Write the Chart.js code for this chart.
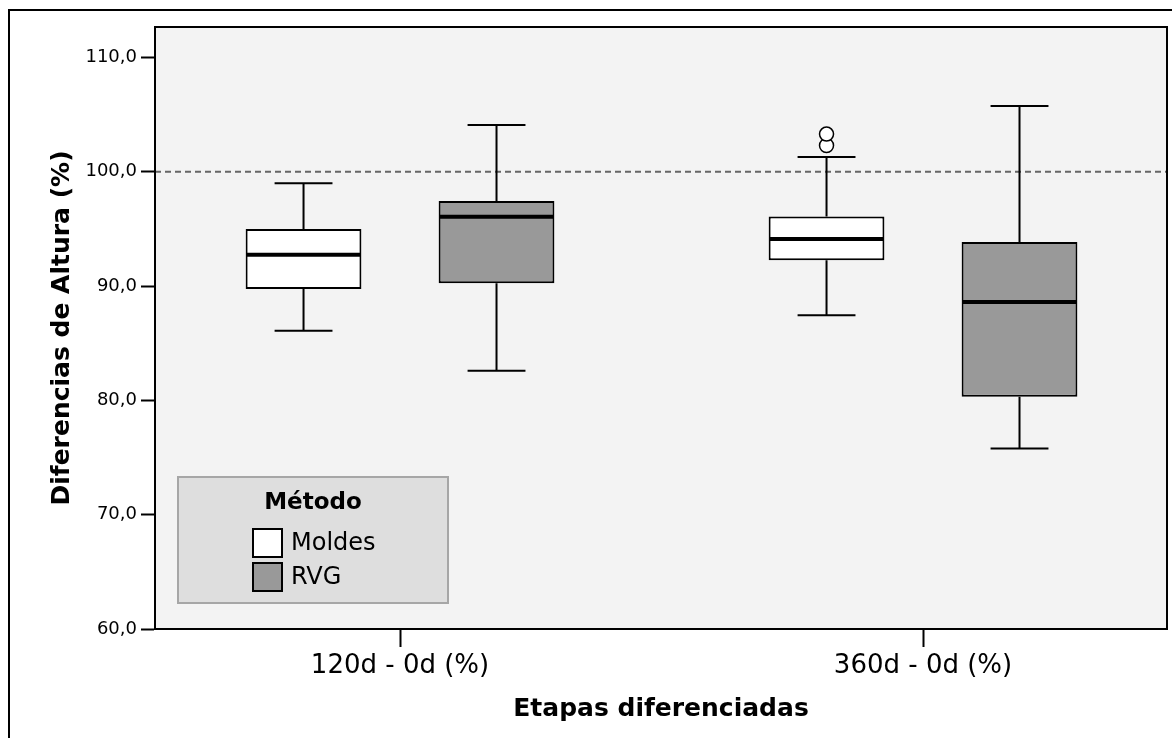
<!DOCTYPE html>
<html>
<head>
<meta charset="utf-8">
<script src="https://cdn.jsdelivr.net/npm/chart.js@4"></script>
<style>
  body { margin:0; background:#fff; }
</style>
</head>
<body>
<canvas id="grafico" width="1172" height="738"></canvas>
<script>
// datos (diagrama de cajas)
var categorias = ['120d - 0d (%)', '360d - 0d (%)'];
var posiciones = [0, 1];

var moldesMin     = [86.1, 87.45];
var moldesQ1      = [89.75, 92.26];
var moldesMediana = [92.75, 94.12];
var moldesQ3      = [95.0, 96.1];
var moldesMax     = [99.0, 101.3];
var moldesAtipicos = [[], [102.3, 103.3]];

var rvgMin     = [82.6, 75.8];
var rvgQ1      = [90.24, 80.32];
var rvgMediana = [96.07, 88.6];
var rvgQ3      = [97.45, 93.86];
var rvgMax     = [104.1, 105.76];
var rvgAtipicos = [[], []];

var ticksY = [60, 70, 80, 90, 100, 110];
var referencia = 100;

var tituloLeyenda = 'Método';

Chart.defaults.font.family = "'DejaVu Sans', sans-serif";
Chart.defaults.color = '#000';

function armarSerie(nombre, color, q1, q3, min, med, max, atip){
	return {
		label: nombre,
		backgroundColor: color,
		borderColor: '#000',
		borderWidth: 2,
		borderSkipped: false,
		categoryPercentage: 0.738,
		barPercentage: 0.6,
		data: posiciones.map(function(p, i){ return {x: p, y: [q1[i], q3[i]]}; }),
		minimos: min,
		medianas: med,
		maximos: max,
		atipicos: atip
	};
}

var pluginCajas = {
	id: 'cajas',
	beforeDraw: function(chart){
		var ctx = chart.ctx, a = chart.chartArea;
		ctx.save();
		ctx.fillStyle = '#fff';
		ctx.fillRect(0, 0, chart.width, chart.height);
		// marco exterior
		ctx.strokeStyle = '#000';
		ctx.lineWidth = 2;
		ctx.strokeRect(9, 10, chart.width + 20, chart.height + 20);
		// fondo del area
		ctx.fillStyle = '#f3f3f3';
		ctx.fillRect(a.left, a.top, a.right - a.left, a.bottom - a.top);
		ctx.restore();
	},
	beforeDatasetsDraw: function(chart){
		var ctx = chart.ctx, a = chart.chartArea;
		var yy = chart.scales.y.getPixelForValue(referencia);
		ctx.save();
		ctx.strokeStyle = '#666';
		ctx.lineWidth = 2;
		ctx.setLineDash([6, 4]);
		ctx.beginPath();
		ctx.moveTo(a.left, yy);
		ctx.lineTo(a.right, yy);
		ctx.stroke();
		ctx.restore();
	},
	afterDatasetsDraw: function(chart){
		var ctx = chart.ctx, a = chart.chartArea;
		var ys = chart.scales.y;
		ctx.save();
		ctx.strokeStyle = '#000';
		chart.data.datasets.forEach(function(ds, k){
			var meta = chart.getDatasetMeta(k);
			meta.data.forEach(function(el, i){
				var x = el.x, w = el.width;
				var yq1 = ys.getPixelForValue(ds.data[i].y[0]);
				var yq3 = ys.getPixelForValue(ds.data[i].y[1]);
				var ymin = ys.getPixelForValue(ds.minimos[i]);
				var ymax = ys.getPixelForValue(ds.maximos[i]);
				var ymed = ys.getPixelForValue(ds.medianas[i]);
				ctx.lineWidth = 2;
				ctx.beginPath();
				ctx.moveTo(x, yq3); ctx.lineTo(x, ymax);
				ctx.moveTo(x - w/4, ymax); ctx.lineTo(x + w/4, ymax);
				ctx.moveTo(x, yq1); ctx.lineTo(x, ymin);
				ctx.moveTo(x - w/4, ymin); ctx.lineTo(x + w/4, ymin);
				ctx.stroke();
				// mediana
				ctx.lineWidth = 4;
				ctx.beginPath();
				ctx.moveTo(x - w/2 + 1, ymed); ctx.lineTo(x + w/2 - 1, ymed);
				ctx.stroke();
				// atipicos
				ctx.lineWidth = 1.5;
				ds.atipicos[i].forEach(function(v){
					ctx.beginPath();
					ctx.arc(x, ys.getPixelForValue(v), 7, 0, Math.PI * 2);
					ctx.fillStyle = '#fff';
					ctx.fill();
					ctx.stroke();
				});
			});
		});

		// leyenda dentro del area
		var lx = a.left + 23, ly = a.bottom - 152, lw = 270, lh = 126;
		ctx.fillStyle = '#dedede';
		ctx.fillRect(lx, ly, lw, lh);
		ctx.strokeStyle = '#a6a6a6';
		ctx.lineWidth = 2;
		ctx.strokeRect(lx, ly, lw, lh);
		ctx.fillStyle = '#000';
		ctx.textBaseline = 'middle';
		ctx.textAlign = 'center';
		ctx.font = "bold 23px 'DejaVu Sans'";
		ctx.fillText(tituloLeyenda, lx + lw/2, ly + 26);
		ctx.textAlign = 'left';
		ctx.font = "24px 'DejaVu Sans'";
		chart.data.datasets.forEach(function(ds, k){
			var sy = ly + 52 + k * 34;
			ctx.fillStyle = ds.backgroundColor;
			ctx.fillRect(lx + 75, sy, 29, 28);
			ctx.strokeStyle = '#000';
			ctx.lineWidth = 2;
			ctx.strokeRect(lx + 75, sy, 29, 28);
			ctx.fillStyle = '#000';
			ctx.fillText(ds.label, lx + 113, sy + 15);
		});

		// borde del area
		ctx.strokeStyle = '#000';
		ctx.lineWidth = 2;
		ctx.strokeRect(a.left, a.top, a.right - a.left, a.bottom - a.top);
		ctx.restore();
	}
};

var config = {
	type: 'bar',
	data: {
		datasets: [
			armarSerie('Moldes', '#ffffff', moldesQ1, moldesQ3, moldesMin, moldesMediana, moldesMax, moldesAtipicos),
			armarSerie('RVG', '#999999', rvgQ1, rvgQ3, rvgMin, rvgMediana, rvgMax, rvgAtipicos)
		]
	},
	options: {
		responsive: false,
		animation: false,
		layout: { padding: { left: 0, top: 27, right: 5, bottom: 0 } },
		plugins: {
			legend: { display: false },
			tooltip: { enabled: false }
		},
		scales: {
			x: {
				type: 'linear',
				offset: false,
				min: -0.4685,
				max: 1.4665,
				afterBuildTicks: function(s){ s.ticks = posiciones.map(function(p){ return {value: p}; }); },
				afterFit: function(s){ s.height = 109; },
				grid: { offset: false, drawOnChartArea: false, drawTicks: true, tickLength: 18, tickColor: '#000', tickWidth: 2 },
				border: { display: true, color: '#000', width: 2 },
				ticks: {
					font: { size: 26 },
					color: '#000',
					padding: 4,
					maxRotation: 0,
					autoSkip: false,
					callback: function(v, i){ return categorias[i]; }
				},
				title: {
					display: true,
					text: 'Etapas diferenciadas',
					color: '#000',
					font: { size: 25, weight: 'bold' },
					padding: { top: 0, bottom: 14 }
				}
			},
			y: {
				min: 60,
				max: 112.67,
				afterBuildTicks: function(s){ s.ticks = ticksY.map(function(v){ return {value: v}; }); },
				afterFit: function(s){ s.width = 155; },
				grid: { drawOnChartArea: false, drawTicks: true, tickLength: 14, tickColor: '#000', tickWidth: 2 },
				border: { display: true, color: '#000', width: 2 },
				ticks: {
					font: { size: 18 },
					color: '#000',
					padding: 4,
					callback: function(v){ return v.toFixed(1).replace('.', ','); }
				},
				title: {
					display: true,
					text: 'Diferencias de Altura (%)',
					color: '#000',
					font: { size: 25, weight: 'bold' },
					padding: { top: 47, bottom: 0 }
				}
			}
		}
	},
	plugins: [pluginCajas]
};

var grafico = new Chart(document.getElementById('grafico').getContext('2d'), config);
</script>
</body>
</html>
